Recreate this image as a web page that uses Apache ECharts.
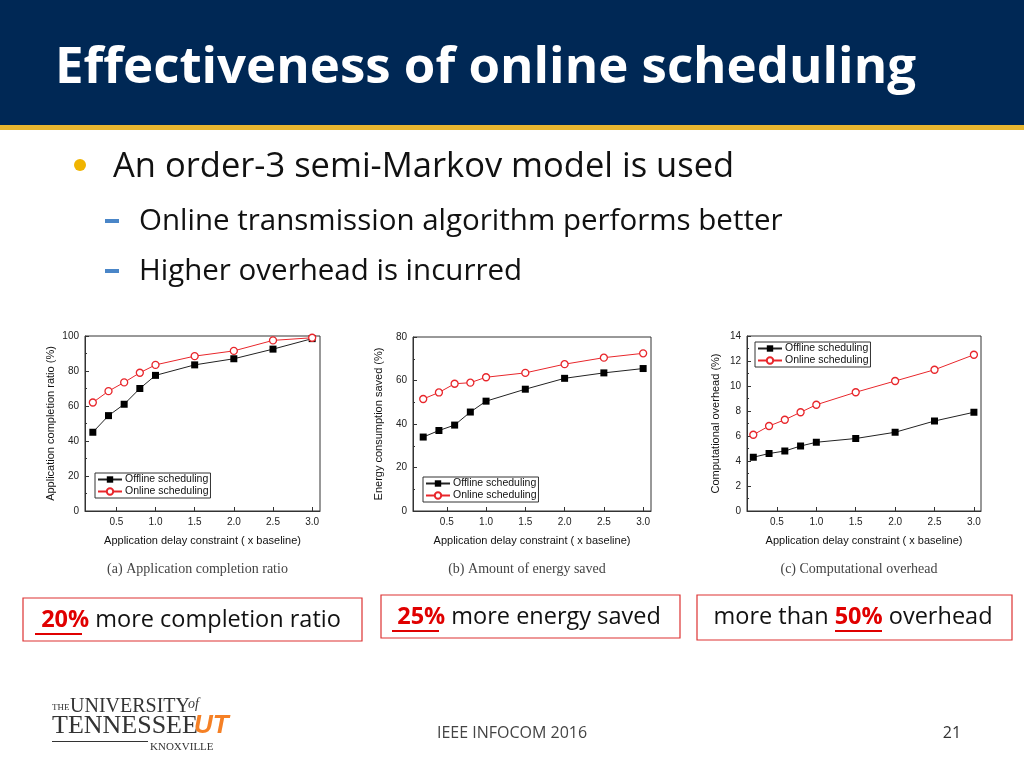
<!DOCTYPE html>
<html><head><meta charset="utf-8">
<script src="https://cdn.jsdelivr.net/npm/echarts@6/dist/echarts.min.js"></script>
<style>html,body{margin:0;padding:0;background:#fff}#c{width:1024px;height:768px}</style>
</head><body><div id="c"></div>
<script>
const xVals = [0.2,0.4,0.6,0.8,1.0,1.5,2.0,2.5,3.0];
const xTicks = [0.5,1.0,1.5,2.0,2.5,3.0];
const completionOffline = [45,54.5,61,70,77.5,83.5,87,92.5,98.5];
const completionOnline  = [62,68.5,73.5,79,83.5,88.5,91.5,97.5,99];
const energyOffline = [34,37,39.5,45.5,50.5,56,61,63.5,65.5];
const energyOnline  = [51.5,54.5,58.5,59,61.5,63.5,67.5,70.5,72.5];
const overheadOffline = [4.3,4.6,4.8,5.2,5.5,5.8,6.3,7.2,7.9];
const overheadOnline  = [6.1,6.8,7.3,7.9,8.5,9.5,10.4,11.3,12.5];
const seriesNames = ['Offline scheduling','Online scheduling'];
const yNames = ['Application completion ratio (%)','Energy consumption saved (%)','Computational overhead (%)'];
const xName = 'Application delay constraint ( x baseline)';
const captions = ['(a) Application completion ratio','(b) Amount of energy saved','(c) Computational overhead'];

const grids = [
  {left:85, top:336, width:235, height:175, xmin:0.1, xmax:3.1, ymax:100, yint:20},
  {left:413, top:337, width:238, height:174, xmin:0.07, xmax:3.1, ymax:80, yint:20},
  {left:747, top:336, width:234, height:175, xmin:0.12, xmax:3.09, ymax:14, yint:2}
];
const dataSets = [[completionOffline,completionOnline],[energyOffline,energyOnline],[overheadOffline,overheadOnline]];
const legendPos = [{left:95, top:473},{left:423, top:477},{left:755, top:342}];

const f = 'Liberation Sans, Arial, sans-serif';
const option = {
  animation:false,
  grid: grids.map(g=>({left:g.left, top:g.top, width:g.width, height:g.height, show:true, borderColor:'#333', borderWidth:1})),
  xAxis: grids.map((g,i)=>({type:'value', gridIndex:i, min:g.xmin, max:g.xmax,
    name:xName, nameLocation:'middle', nameGap:24, nameTextStyle:{fontFamily:f,fontSize:11,color:'#111'},
    axisLine:{lineStyle:{color:'#333'}}, splitLine:{show:false},
    axisTick:{inside:true, customValues:xTicks, length:4, lineStyle:{color:'#333'}},
    axisLabel:{customValues:xTicks, fontFamily:f, fontSize:10, color:'#222', margin:6, formatter:v=>v.toFixed(1)}})),
  yAxis: grids.map((g,i)=>({type:'value', gridIndex:i, min:0, max:g.ymax, interval:g.yint,
    name:yNames[i], nameLocation:'middle', nameGap:i===2?26:29, nameTextStyle:{fontFamily:f,fontSize:11,color:'#111'},
    axisLine:{show:true,lineStyle:{color:'#333'}}, splitLine:{show:false},
    axisTick:{inside:true, length:4, lineStyle:{color:'#333'}},
    minorTick:{show:true, splitNumber:2, length:2},
    axisLabel:{fontFamily:f, fontSize:10, color:'#222', margin:6}})),
  legend: legendPos.map(p=>({left:p.left, top:p.top, orient:'vertical', data:seriesNames,
    borderColor:'#333', borderWidth:1, padding:[1,2], itemGap:1, itemWidth:24, itemHeight:8, selectedMode:false,
    textStyle:{fontFamily:f,fontSize:10.5,color:'#111', padding:[0,0,0,-2]}})),
  series: [],
  graphic: [
    {type:'rect', shape:{x:0,y:0,width:1024,height:125}, style:{fill:'#002855'}},
    {type:'rect', shape:{x:0,y:125,width:1024,height:5}, style:{fill:'#e8b62f'}},
    {type:'text', x:55, y:68, style:{text:'Effectiveness of online scheduling', fill:'#fff', verticalAlign:'middle', font:'bold 51px "Open Sans", sans-serif'}},
    {type:'circle', shape:{cx:80, cy:165, r:6}, style:{fill:'#f0b400'}},
    {type:'text', x:113, y:167, style:{text:'An order-3 semi-Markov model is used', fill:'#111', verticalAlign:'middle', font:'34.5px "Open Sans", sans-serif'}},
    {type:'rect', shape:{x:105,y:219,width:14,height:4}, style:{fill:'#4a86c8'}},
    {type:'text', x:139, y:222, style:{text:'Online transmission algorithm performs better', fill:'#111', verticalAlign:'middle', font:'29.5px "Open Sans", sans-serif'}},
    {type:'rect', shape:{x:105,y:269,width:14,height:4}, style:{fill:'#4a86c8'}},
    {type:'text', x:139, y:272, style:{text:'Higher overhead is incurred', fill:'#111', verticalAlign:'middle', font:'29.5px "Open Sans", sans-serif'}},
    ...captions.map((c,i)=>({type:'text', x:grids[i].left+grids[i].width/2-5, y:562, style:{text:c, fill:'#444', font:'14px "Liberation Serif", serif', align:'center'}})),
    {type:'rect', shape:{x:23,y:598,width:339,height:43}, style:{fill:'#fff', stroke:'#d33', lineWidth:1.2}},
    {type:'text', x:191, y:620, style:{text:'{r|20%} more completion ratio', align:'center', verticalAlign:'middle', font:'23.5px "Open Sans", sans-serif', fill:'#111', rich:{r:{fill:'#e00000', fontWeight:'bold', fontSize:23.5, fontFamily:'Open Sans'}}}},
    {type:'rect', shape:{x:381,y:595,width:299,height:43}, style:{fill:'#fff', stroke:'#d33', lineWidth:1.2}},
    {type:'text', x:529, y:617, style:{text:'{r|25%} more energy saved', align:'center', verticalAlign:'middle', font:'23.5px "Open Sans", sans-serif', fill:'#111', rich:{r:{fill:'#e00000', fontWeight:'bold', fontSize:23.5, fontFamily:'Open Sans'}}}},
    {type:'rect', shape:{x:697,y:595,width:315,height:45}, style:{fill:'#fff', stroke:'#d33', lineWidth:1.2}},
    {type:'text', x:853, y:617, style:{text:'more than {r|50%} overhead', align:'center', verticalAlign:'middle', font:'23.5px "Open Sans", sans-serif', fill:'#111', rich:{r:{fill:'#e00000', fontWeight:'bold', fontSize:23.5, fontFamily:'Open Sans'}}}},
    {type:'rect', shape:{x:392,y:630,width:47,height:2}, style:{fill:'#e00000'}},
    {type:'rect', shape:{x:35,y:633,width:47,height:2}, style:{fill:'#e00000'}},
    {type:'rect', shape:{x:835,y:630,width:47,height:2}, style:{fill:'#e00000'}},
    {type:'text', x:52, y:703, style:{text:'THE', fill:'#333', font:'9px "Liberation Serif", serif'}},
    {type:'text', x:70, y:697, style:{text:'UNIVERSITY', fill:'#333', font:'20px "Liberation Serif", serif'}},
    {type:'text', x:188, y:697, style:{text:'of', fill:'#333', font:'italic 14px "Liberation Serif", serif'}},
    {type:'text', x:52, y:713, style:{text:'TENNESSEE', fill:'#333', font:'26px "Liberation Serif", serif'}},
    {type:'text', x:194, y:713, style:{text:'UT', fill:'#f58025', font:'bold italic 26px "Liberation Sans", sans-serif'}},
    {type:'text', x:150, y:742, style:{text:'KNOXVILLE', fill:'#333', font:'11px "Liberation Serif", serif'}},
    {type:'rect', shape:{x:52,y:741,width:96,height:1}, style:{fill:'#333'}},
    {type:'text', x:512, y:733, style:{text:'IEEE INFOCOM 2016', align:'center', verticalAlign:'middle', fill:'#444', font:'16px "Open Sans", sans-serif'}},
    {type:'text', x:952, y:733, style:{text:'21', align:'center', verticalAlign:'middle', fill:'#333', font:'16px "Open Sans", sans-serif'}}
  ]
};
dataSets.forEach((ds,i)=>{
  option.series.push({name:seriesNames[0], type:'line', xAxisIndex:i, yAxisIndex:i, data:xVals.map((x,k)=>[x,ds[0][k]]),
    symbol:'rect', symbolSize:7, lineStyle:{color:'#222',width:1}, itemStyle:{color:'#000'}, z:3});
  option.series.push({name:seriesNames[1], type:'line', xAxisIndex:i, yAxisIndex:i, data:xVals.map((x,k)=>[x,ds[1][k]]),
    symbol:'circle', symbolSize:7, lineStyle:{color:'#e8262b',width:1}, itemStyle:{color:'#fff', borderColor:'#e8262b', borderWidth:1.3}, z:4});
});
echarts.init(document.getElementById('c')).setOption(option);
</script></body></html>
